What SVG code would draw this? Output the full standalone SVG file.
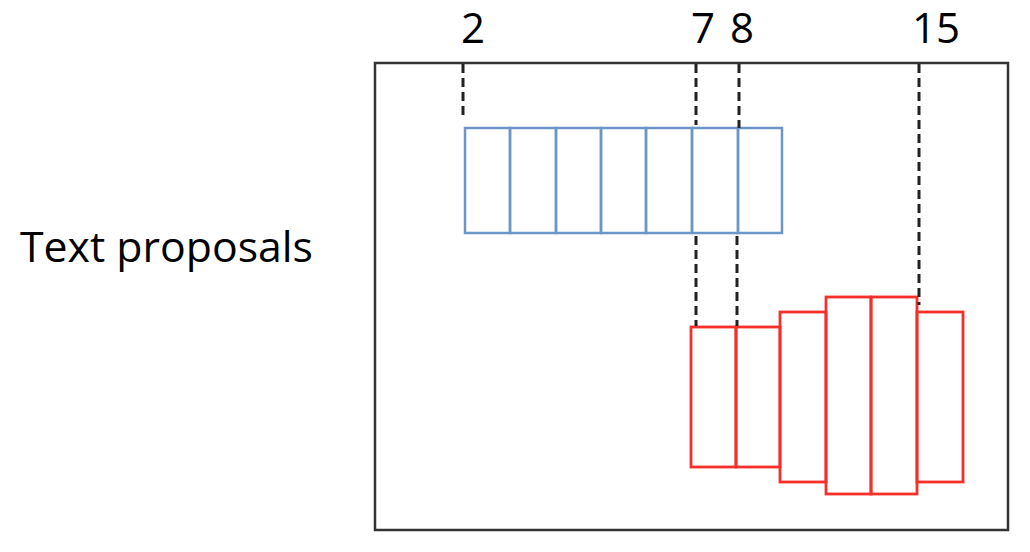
<svg xmlns="http://www.w3.org/2000/svg" width="1030" height="552" viewBox="0 0 1030 552">
<style>
.lbl{font-family:"Open Sans","Liberation Sans",sans-serif;fill:#000;font-size:42px}
.b{fill:none;stroke:#6b96c6;stroke-width:2.5}
.r{fill:none;stroke:#f5302a;stroke-width:2.8}
.d{stroke:#222;stroke-width:3;stroke-dasharray:9,5;fill:none}
</style>
<rect width="1030" height="552" fill="#fff"/>
<g id="frame"><rect x="375" y="63" width="633" height="467" fill="none" stroke="#333" stroke-width="2.5"/></g>
<g id="label-text"><text class="lbl" x="20" y="262" textLength="293" lengthAdjust="spacingAndGlyphs">Text proposals</text></g>
<g id="labels">
<text class="lbl" x="473" y="43" text-anchor="middle">2</text>
<text class="lbl" x="703" y="43" text-anchor="middle">7</text>
<text class="lbl" x="742" y="43" text-anchor="middle">8</text>
<text class="lbl" x="936" y="43" text-anchor="middle">15</text>
</g>
<g id="blue">
<rect class="b" x="465" y="128" width="45" height="105"/>
<rect class="b" x="510" y="128" width="46" height="105"/>
<rect class="b" x="556" y="128" width="45" height="105"/>
<rect class="b" x="601" y="128" width="45" height="105"/>
<rect class="b" x="646" y="128" width="46" height="105"/>
<rect class="b" x="692" y="128" width="46" height="105"/>
<rect class="b" x="738" y="128" width="44" height="105"/>
</g>
<g id="red">
<rect class="r" x="691" y="327" width="45" height="140"/>
<rect class="r" x="736" y="327" width="44" height="140"/>
<rect class="r" x="780" y="312" width="46" height="170"/>
<rect class="r" x="826" y="297" width="45" height="197"/>
<rect class="r" x="871" y="297" width="46" height="197"/>
<rect class="r" x="917" y="312" width="46" height="170"/>
</g>
<g id="connectors">
<line class="d" x1="463" y1="64" x2="463" y2="120"/>
<line class="d" x1="696" y1="64" x2="696" y2="125"/>
<line class="d" x1="739" y1="64" x2="739" y2="128"/>
<line class="d" x1="696" y1="236" x2="696" y2="326"/>
<line class="d" x1="737" y1="236" x2="737" y2="326"/>
<line class="d" x1="919" y1="64" x2="919" y2="305"/>
</g>
</svg>
